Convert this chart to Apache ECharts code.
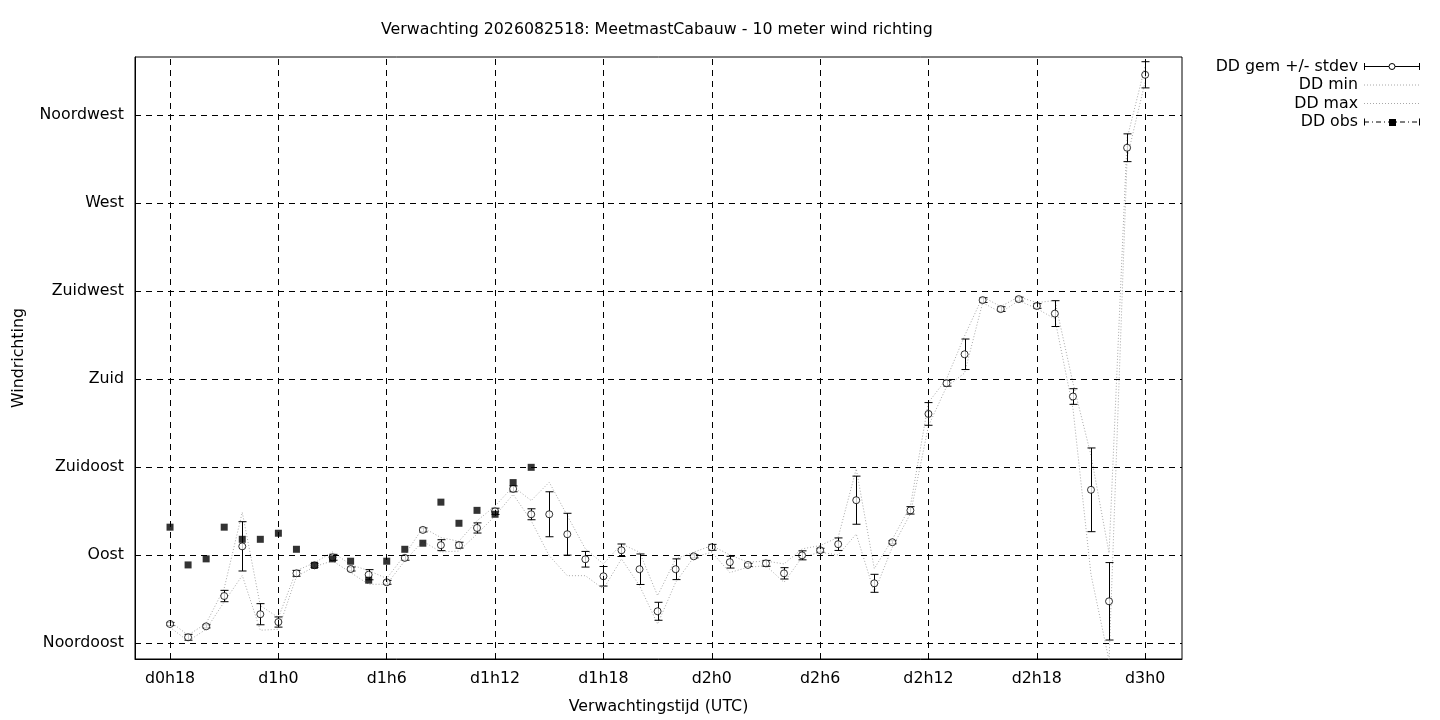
<!DOCTYPE html>
<html>
<head>
<meta charset="utf-8">
<title>Windrichting Cabauw</title>
<script src="https://cdn.jsdelivr.net/npm/echarts@6/dist/echarts.min.js"></script>
<style>
  html, body { margin: 0; padding: 0; background: #fff; }
  #chart { width: 1440px; height: 720px; }
</style>
</head>
<body>
<div id="chart"></div>
<script>
// verwachtingsuren (uren na d0h0)
const uren = [18, 19, 20, 21, 22, 23, 24, 25, 26, 27, 28, 29, 30, 31, 32, 33, 34, 35, 36, 37, 38,
  39, 40, 41, 42, 43, 44, 45, 46, 47, 48, 49, 50, 51, 52, 53, 54, 55, 56, 57, 58, 59, 60,
  61, 62, 63, 64, 65, 66, 67, 68, 69, 70, 71, 72];
const ddGem = [54.7, 47.9, 53.5, 69, 94.4, 59.7, 55.7, 80.6, 84.7, 88.8, 82.8, 79.9, 76.0, 88.5, 102.8, 95.0, 95.0, 103.8, 112.3, 123.8, 110.8,
  110.8, 100.6, 87.8, 79.1, 92.4, 82.7, 61.2, 82.7, 89.3, 93.9, 86.3, 84.9, 85.7, 80.6, 89.8, 92.4, 95.5, 118.0, 75.5, 96.5, 112.8, 162.1,
  177.8, 192.6, 220.3, 215.7, 220.8, 217.3, 213.4, 171, 123.3, 66.3, 298.2, 335.5];
const ddStdev = [0.8, 1.5, 0.8, 2.9, 12.6, 5.4, 2.6, 1.5, 1.0, 1.5, 1.0, 2.6, 1.0, 1.2, 1.0, 2.8, 1.5, 2.6, 1.6, 1.5, 2.8,
  11.5, 10.7, 4.0, 5.0, 3.2, 7.8, 4.6, 5.3, 0.8, 1.5, 3.0, 0.8, 1.5, 2.9, 2.3, 1.0, 3.2, 12.3, 4.6, 0.8, 1.9, 5.8,
  1.5, 7.8, 1.2, 1.2, 1.0, 1.2, 6.6, 4.0, 21.4, 19.8, 7.1, 6.7];
const ddMin = [53, 46, 52, 66, 79.5, 51.5, 52, 79, 84, 87, 81, 75, 75, 87, 97, 91.5, 92, 100.7, 110, 121, 107.5,
  89.6, 79.4, 79.4, 72.6, 88, 74.3, 54.7, 76, 88.8, 91.4, 81, 83.7, 84.5, 76, 88.8, 91.4, 90, 100.7, 70.9, 94, 111, 156,
  176, 183, 219, 214, 220, 216, 210.7, 165, 80, 36, 293, 332];
const ddMax = [56, 49, 55, 73, 111.8, 64.1, 58, 82, 86, 91.5, 85, 82, 78, 90, 104, 98.9, 97, 107.5, 115, 125, 117.8,
  127.2, 110.1, 93.1, 85.4, 95.6, 91.4, 69.2, 88, 91.4, 94.8, 90, 86.3, 86.9, 85.4, 93.1, 94.8, 99, 134, 83, 98, 115, 168,
  180, 202, 222, 217, 222, 219, 220.1, 178, 141, 91, 303, 340];
// waarnemingen
const obsUren = [18, 19, 20, 21, 22, 23, 24, 25, 26, 27, 28, 29, 30, 31, 32, 33, 34, 35, 36, 37, 38];
const ddObs = [104.2, 84.9, 88.0, 104.2, 98.0, 98.0, 101.1, 92.9, 84.7, 88.0, 86.8, 77.1, 86.8, 92.9, 96.0, 117.0, 106.2, 112.8, 110.8, 127.0, 134.8];

const tijdTicks = [18, 24, 30, 36, 42, 48, 54, 60, 66, 72];
const tijdLabels = ['d0h18', 'd1h0', 'd1h6', 'd1h12', 'd1h18', 'd2h0', 'd2h6', 'd2h12', 'd2h18', 'd3h0'];
const richtingTicks = [45, 90, 135, 180, 225, 270, 315];
const richtingLabels = ['Noordoost', 'Oost', 'Zuidoost', 'Zuid', 'Zuidwest', 'West', 'Noordwest'];

const FONT = 'DejaVu Sans';
const FS = 15.8;

const pairs = (xs, ys) => xs.map((x, i) => [x, ys[i]]);
const foutData = uren.map((u, i) => [u, ddGem[i] - ddStdev[i], ddGem[i] + ddStdev[i]]);

function renderFout(params, api) {
  const x = api.value(0);
  const lo = api.coord([x, api.value(1)]);
  const hi = api.coord([x, api.value(2)]);
  const cx = Math.round(lo[0]) + 0.5;
  const st = { stroke: '#000', lineWidth: 1 };
  return {
    type: 'group',
    children: [
      { type: 'line', shape: { x1: cx, y1: lo[1], x2: cx, y2: hi[1] }, style: st },
      { type: 'line', shape: { x1: cx - 4, y1: lo[1], x2: cx + 4, y2: lo[1] }, style: st },
      { type: 'line', shape: { x1: cx - 4, y1: hi[1], x2: cx + 4, y2: hi[1] }, style: st }
    ]
  };
}

const rasterLijnen = tijdTicks.map(v => ({ xAxis: v })).concat(richtingTicks.map(v => ({ yAxis: v })));

// legenda rechtsboven, gnuplot stijl
const LX = 1358, S0 = 1364, S1 = 1420, SM = 1392;
const rijen = [66.5, 85, 103.5, 122];
const legTekst = ['DD gem +/- stdev', 'DD min', 'DD max', 'DD obs'];
const legenda = [];
legTekst.forEach((t, i) => {
  legenda.push({
    type: 'text', silent: true,
    style: { text: t, x: LX, y: rijen[i], align: 'right', textAlign: 'right', verticalAlign: 'middle', textVerticalAlign: 'middle', font: FS + 'px "' + FONT + '"', fill: '#000' }
  });
});
const zwart = { stroke: '#000', lineWidth: 1 };
legenda.push(
  { type: 'line', shape: { x1: S0, y1: rijen[0], x2: S1, y2: rijen[0] }, style: zwart },
  { type: 'line', shape: { x1: S0 + 0.5, y1: rijen[0] - 3.5, x2: S0 + 0.5, y2: rijen[0] + 3.5 }, style: zwart },
  { type: 'line', shape: { x1: S1 - 0.5, y1: rijen[0] - 3.5, x2: S1 - 0.5, y2: rijen[0] + 3.5 }, style: zwart },
  { type: 'circle', shape: { cx: SM, cy: rijen[0], r: 3 }, style: { fill: '#fff', stroke: '#000', lineWidth: 1 } },
  { type: 'line', shape: { x1: S0, y1: rijen[1], x2: S1, y2: rijen[1] }, style: { stroke: '#a8a8a8', lineWidth: 1, lineDash: [1, 2] } },
  { type: 'line', shape: { x1: S0, y1: rijen[2], x2: S1, y2: rijen[2] }, style: { stroke: '#a8a8a8', lineWidth: 1, lineDash: [1, 2] } },
  { type: 'line', shape: { x1: S0, y1: rijen[3], x2: S1, y2: rijen[3] }, style: { stroke: '#000', lineWidth: 1, lineDash: [5, 3, 1, 3] } },
  { type: 'line', shape: { x1: S0 + 0.5, y1: rijen[3] - 3.5, x2: S0 + 0.5, y2: rijen[3] + 3.5 }, style: zwart },
  { type: 'line', shape: { x1: S1 - 0.5, y1: rijen[3] - 3.5, x2: S1 - 0.5, y2: rijen[3] + 3.5 }, style: zwart },
  { type: 'rect', shape: { x: SM - 3, y: rijen[3] - 3, width: 7, height: 7 }, style: { fill: '#000' } }
);

const chart = echarts.init(document.getElementById('chart'), null, { renderer: 'canvas' });
chart.setOption({
  animation: false,
  backgroundColor: '#fff',
  textStyle: { fontFamily: FONT },
  title: {
    text: 'Verwachting 2026082518: MeetmastCabauw - 10 meter wind richting',
    left: 381, top: 22, padding: 0,
    textStyle: { fontFamily: FONT, fontSize: FS, fontWeight: 'normal', color: '#000' }
  },
  grid: { left: 135, right: 258, top: 57, bottom: 60, show: true, borderColor: '#000', borderWidth: 1, backgroundColor: 'transparent' },
  xAxis: {
    type: 'value', min: 16.06, max: 74.04,
    name: 'Verwachtingstijd (UTC)', nameLocation: 'middle', nameGap: 40,
    nameTextStyle: { fontFamily: FONT, fontSize: FS, color: '#000' },
    axisLine: { show: true, lineStyle: { color: '#000', width: 1 } },
    axisTick: { show: false },
    splitLine: { show: false },
    axisLabel: {
      customValues: tijdTicks, margin: 12, color: '#000', fontFamily: FONT, fontSize: FS,
      formatter: v => tijdLabels[tijdTicks.indexOf(v)] || ''
    }
  },
  yAxis: {
    type: 'value', min: 36.8, max: 344.6,
    name: 'Windrichting', nameLocation: 'middle', nameGap: 108,
    nameTextStyle: { fontFamily: FONT, fontSize: FS, color: '#000' },
    axisLine: { show: true, lineStyle: { color: '#000', width: 1 } },
    axisTick: { show: false },
    splitLine: { show: false },
    axisLabel: {
      customValues: richtingTicks, margin: 11, color: '#000', fontFamily: FONT, fontSize: FS,
      formatter: v => richtingLabels[richtingTicks.indexOf(v)] || ''
    }
  },
  graphic: { elements: legenda },
  series: [
    {
      name: 'DD min', type: 'line', z: 1, data: pairs(uren, ddMin),
      symbol: 'none', showSymbol: false, clip: true,
      lineStyle: { color: '#a8a8a8', width: 1, type: [1, 2] },
      emphasis: { disabled: true },
      markLine: {
        silent: true, symbol: ['none', 'none'], label: { show: false },
        lineStyle: { color: '#000', width: 1, type: [6, 5] },
        emphasis: { disabled: true },
        data: rasterLijnen
      }
    },
    {
      name: 'DD max', type: 'line', z: 1, data: pairs(uren, ddMax),
      symbol: 'none', showSymbol: false, clip: true,
      lineStyle: { color: '#a8a8a8', width: 1, type: [1, 2] },
      emphasis: { disabled: true }
    },
    {
      name: 'DD gem +/- stdev', type: 'custom', z: 3, data: foutData,
      renderItem: renderFout, clip: true,
      encode: { x: 0, y: [1, 2] }
    },
    {
      name: 'DD gem', type: 'scatter', z: 4, data: pairs(uren, ddGem),
      symbol: 'circle', symbolSize: 7,
      itemStyle: { color: '#fff', borderColor: '#000', borderWidth: 1 },
      emphasis: { disabled: true }
    },
    {
      name: 'DD obs', type: 'scatter', z: 5, data: pairs(obsUren, ddObs),
      symbol: 'rect', symbolSize: 7,
      itemStyle: { color: '#000' },
      emphasis: { disabled: true }
    }
  ]
});
</script>
</body>
</html>
